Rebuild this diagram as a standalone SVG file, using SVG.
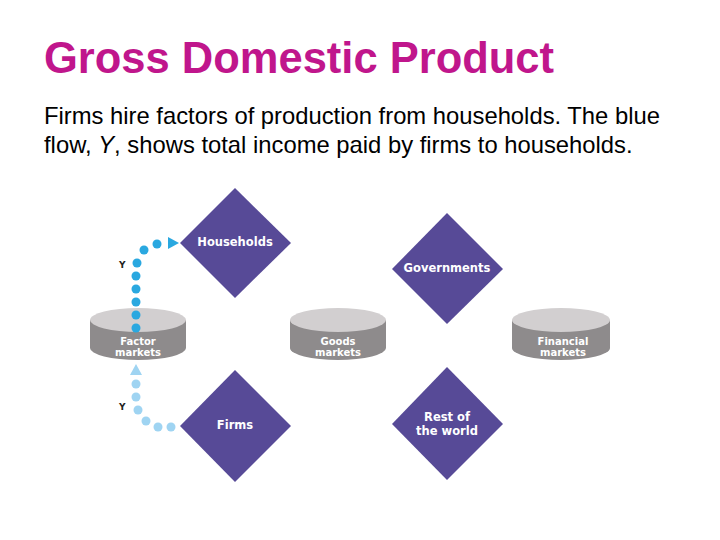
<svg xmlns="http://www.w3.org/2000/svg" width="720" height="540" viewBox="0 0 720 540">
<style>
.d{fill:#574a97}
.dl{font-family:"DejaVu Sans",sans-serif;font-weight:bold;font-size:11.5px;fill:#fff;text-anchor:middle}
.cl{font-family:"DejaVu Sans",sans-serif;font-weight:bold;font-size:10px;fill:#fff;text-anchor:middle}
.top{fill:#d2cfd0}
.body{fill:#8e8b8c}
.u{fill:#2aa8e0}
.l{fill:#9fd4f2}
.y{font-family:"DejaVu Sans",sans-serif;font-weight:bold;font-size:9px;fill:#222}
</style>
<rect width="720" height="540" fill="#fff"/>
<text x="44" y="73" font-family="Liberation Sans,Arial,sans-serif" font-weight="bold" font-size="43.5" fill="#c0168c">Gross Domestic Product</text>
<text font-family="Liberation Sans,Arial,sans-serif" font-size="23.8" fill="#000"><tspan x="44" y="124">Firms hire factors of production from households. The blue</tspan><tspan x="44" y="153">flow, <tspan font-style="italic">Y</tspan>, shows total income paid by firms to households.</tspan></text>
<g id="households"><path class="d" d="M235 188L291 243L235 298L180 243Z"/><text class="dl" x="235" y="246">Households</text></g>
<g id="firms"><path class="d" d="M235 370L291 426L235 482L180 426Z"/><text class="dl" x="235" y="429">Firms</text></g>
<g id="governments"><path class="d" d="M447 213L503 269L447 324L392 269Z"/><text class="dl" x="447" y="272">Governments</text></g>
<g id="rest"><path class="d" d="M447 367L503 424L447 480L392 424Z"/><text class="dl" x="447" y="421">Rest of</text><text class="dl" x="447" y="435">the world</text></g>
<g id="factor"><path class="body" d="M90 320V348A48 12 0 0 0 186 348V320Z"/><ellipse class="top" cx="138" cy="320" rx="48" ry="12"/><text class="cl" x="138" y="345">Factor</text><text class="cl" x="138" y="356">markets</text></g>
<g id="goods"><path class="body" d="M290 320V348A48 12 0 0 0 386 348V320Z"/><ellipse class="top" cx="338" cy="320" rx="48" ry="12"/><text class="cl" x="338" y="345">Goods</text><text class="cl" x="338" y="356">markets</text></g>
<g id="financial"><path class="body" d="M512 320V348A49 12 0 0 0 610 348V320Z"/><ellipse class="top" cx="561" cy="320" rx="49" ry="12"/><text class="cl" x="563" y="345">Financial</text><text class="cl" x="563" y="356">markets</text></g>
<g id="connectors">
<g class="u"><circle cx="136" cy="328" r="4.5"/><circle cx="136" cy="315" r="4.5"/><circle cx="136" cy="302" r="4.5"/><circle cx="136" cy="289" r="4.5"/><circle cx="136" cy="276" r="4.5"/><circle cx="137" cy="263" r="4.5"/><circle cx="144" cy="250" r="4.5"/><circle cx="157" cy="244" r="4.5"/><path d="M168 237L179 243L168 249Z"/></g>
<g class="l"><path d="M130 375L136 364L142 375Z"/><circle cx="136" cy="384" r="4.5"/><circle cx="136" cy="397" r="4.5"/><circle cx="138" cy="410" r="4.5"/><circle cx="146" cy="421" r="4.5"/><circle cx="158" cy="427" r="4.5"/><circle cx="171" cy="427" r="4.5"/></g>
<text class="y" x="119" y="268">Y</text><text class="y" x="119" y="410">Y</text>
</g>
</svg>
